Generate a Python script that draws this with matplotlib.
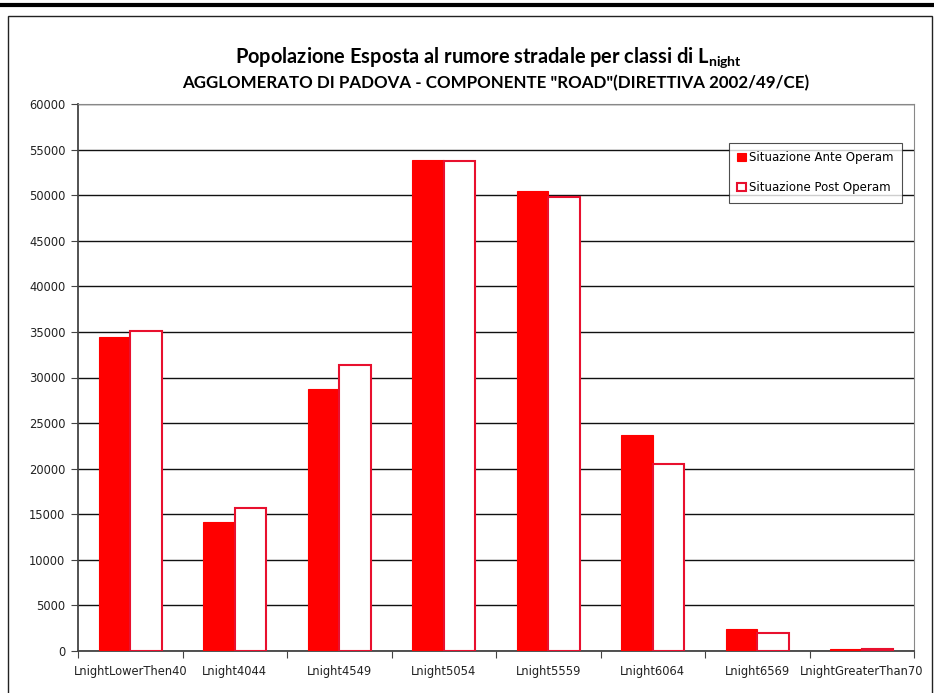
import matplotlib
matplotlib.use('Agg')
import matplotlib.pyplot as plt
import numpy as np
from matplotlib.patches import Rectangle
from matplotlib.lines import Line2D

categories = ['LnightLowerThen40', 'Lnight4044', 'Lnight4549', 'Lnight5054',
              'Lnight5559', 'Lnight6064', 'Lnight6569', 'LnightGreaterThan70']
ante = [34400, 14150, 28700, 53900, 50450, 23700, 2450, 200]
post = [35050, 15700, 31400, 53800, 49750, 20500, 2000, 250]
yticks = list(range(0, 60001, 5000))

plt.rcParams['mathtext.fontset'] = 'custom'
plt.rcParams['mathtext.bf'] = 'Lato:bold'
plt.rcParams['mathtext.rm'] = 'Lato:bold'

fig = plt.figure(figsize=(9.34, 6.93), dpi=100)
W, H = 934, 693

# page line and chart border
fig.add_artist(Line2D([0, 1], [1 - 5/H, 1 - 5/H], color='black', lw=3))
fig.add_artist(Rectangle((8/W, -0.1), (932-8)/W, 1.1 - 16/H, fill=False,
                         edgecolor='#222222', lw=1.0, transform=fig.transFigure))

ax = fig.add_axes([78/W, (H-651)/H, (914-78)/W, (651-104)/H])
x = np.arange(len(categories)) + 0.5
ax.bar(x, ante, width=-0.3, align='edge', color='#ff0000', edgecolor='#ff0000',
       lw=0.8, label='Situazione Ante Operam', zorder=3)
ax.bar(x, post, width=0.3, align='edge', color='white', edgecolor='#e8102e',
       lw=1.5, label='Situazione Post Operam', zorder=3)

ax.set_xlim(0, len(categories))
ax.set_ylim(0, 60000)
ax.set_yticks(yticks)
ax.set_yticklabels([str(v) for v in yticks], fontsize=8.3, color='#222222')
ax.set_xticks(np.arange(len(categories) + 1))
ax.set_xticklabels([])
ax.set_xticks(x, minor=True)
ax.set_xticklabels(categories, minor=True, fontsize=8.3, color='#222222')
ax.tick_params(axis='x', which='minor', length=0, pad=10)
ax.tick_params(axis='x', which='major', length=5, direction='out', color='#444444')
ax.tick_params(axis='y', length=5, direction='out', color='#444444', pad=4)
ax.yaxis.grid(True, color='#111111', lw=1.0, zorder=0)
ax.set_axisbelow(True)
for s in ['top', 'right']:
    ax.spines[s].set_color('#888888')
ax.spines['left'].set_color('#444444')
ax.spines['bottom'].set_color('#444444')
ax.spines['left'].set_linewidth(1.3)
ax.spines['bottom'].set_linewidth(1.3)

leg = ax.legend(loc='upper left', bbox_to_anchor=(729/W, 1 - 143/H),
                bbox_transform=fig.transFigure, fontsize=8.5, frameon=True,
                fancybox=False, edgecolor='#222222', handlelength=0.7,
                handleheight=0.7, handletextpad=0.3, labelspacing=1.45,
                borderpad=0.7, borderaxespad=0)
leg.get_frame().set_linewidth(0.8)

fig.text(489/W, 1 - 58/H, r'Popolazione Esposta al rumore stradale per classi di L$_{\mathbf{night}}$',
         ha='center', va='center', fontsize=14.4, fontweight='bold', family='Lato')
fig.text(496/W, 1 - 83/H, 'AGGLOMERATO DI PADOVA - COMPONENTE "ROAD"(DIRETTIVA 2002/49/CE)',
         ha='center', va='center', fontsize=12.2, fontweight='bold', family='Lato')

fig.savefig('out.png', dpi=100)
